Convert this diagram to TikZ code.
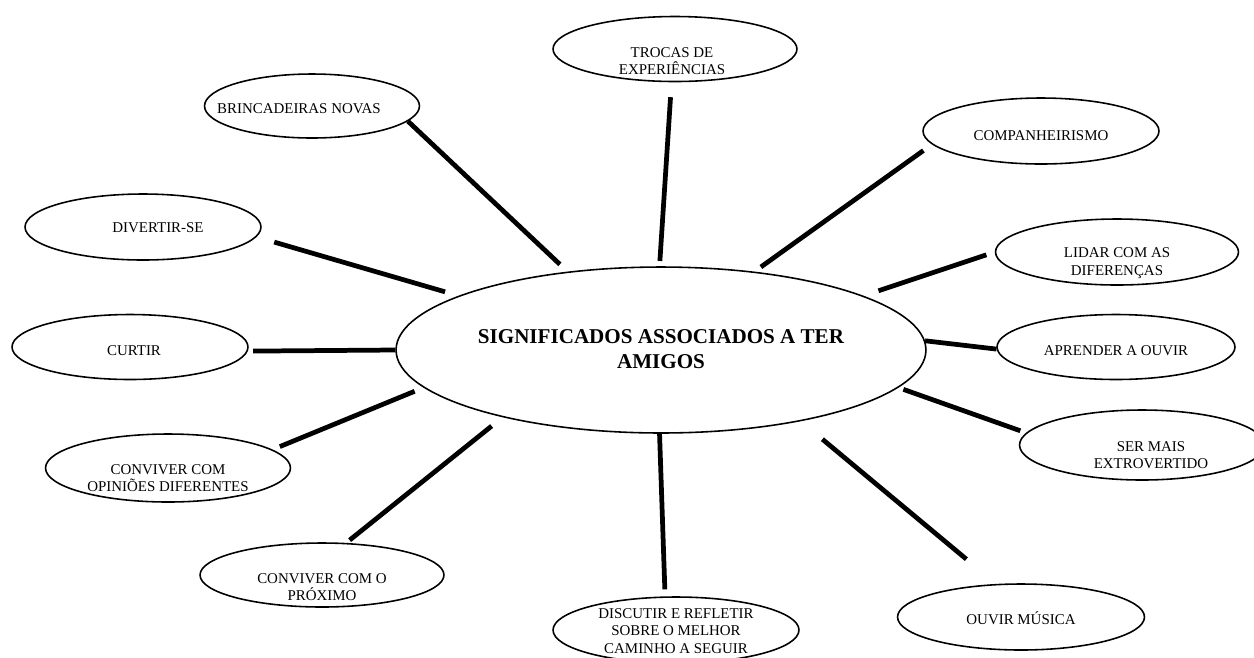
\documentclass[tikz,border=0pt]{standalone}
\usepackage{fontspec}
\setmainfont{Liberation Serif}
\usetikzlibrary{shapes.geometric}

\begin{document}
\begin{tikzpicture}[x=0.02cm,y=-0.02cm,
  bolha/.style={ellipse,draw,line width=0.9pt,inner sep=0pt},
  rotulo/.style={align=center,font=\fontsize{8.5}{10}\selectfont},
  haste/.style={line width=2.7pt}]
\useasboundingbox (0,0) rectangle (1254,657);
% centro
\node [bolha,minimum width=10.6cm,minimum height=3.32cm] (centro) at (661,350) {};
\node [align=center,font=\fontsize{12}{14}\selectfont\bfseries] (centro-txt) at (661,349) {SIGNIFICADOS ASSOCIADOS A TER\\AMIGOS};
% bolhas
\node [bolha,minimum width=4.88cm,minimum height=1.30cm] (trocas) at (675,49) {};
\node [rotulo] (trocas-txt) at (672,61) {TROCAS DE\\EXPERIÊNCIAS};
\node [bolha,minimum width=4.30cm,minimum height=1.28cm] (brinc) at (312,106) {};
\node [rotulo] (brinc-txt) at (299,109) {BRINCADEIRAS NOVAS};
\node [bolha,minimum width=4.72cm,minimum height=1.32cm] (comp) at (1041,131) {};
\node [rotulo] (comp-txt) at (1041,136) {COMPANHEIRISMO};
\node [bolha,minimum width=4.72cm,minimum height=1.32cm] (divert) at (143,227) {};
\node [rotulo] (divert-txt) at (158,228) {DIVERTIR-SE};
\node [bolha,minimum width=4.86cm,minimum height=1.32cm] (lidar) at (1117,252) {};
\node [rotulo] (lidar-txt) at (1117,263) {LIDAR COM AS\\DIFERENÇAS};
\node [bolha,minimum width=4.72cm,minimum height=1.30cm] (curtir) at (130,347) {};
\node [rotulo] (curtir-txt) at (134,351) {CURTIR};
\node [bolha,minimum width=4.76cm,minimum height=1.30cm] (aprender) at (1116,347) {};
\node [rotulo] (aprender-txt) at (1116,351) {APRENDER A OUVIR};
\node [bolha,minimum width=4.90cm,minimum height=1.36cm] (opinioes) at (168,468) {};
\node [rotulo] (opinioes-txt) at (168,478) {CONVIVER COM\\OPINIÕES DIFERENTES};
\node [bolha,minimum width=4.90cm,minimum height=1.40cm] (sermais) at (1142,445) {};
\node [rotulo] (sermais-txt) at (1151,455) {SER MAIS\\EXTROVERTIDO};
\node [bolha,minimum width=4.88cm,minimum height=1.28cm] (proximo) at (322,575) {};
\node [rotulo] (proximo-txt) at (322,587) {CONVIVER COM O\\PRÓXIMO};
\node [bolha,minimum width=4.92cm,minimum height=1.32cm] (discutir) at (676,630) {};
\node [rotulo] (discutir-txt) at (676,631) {DISCUTIR E REFLETIR\\SOBRE O MELHOR\\CAMINHO A SEGUIR};
\node [bolha,minimum width=4.94cm,minimum height=1.32cm] (ouvir) at (1021,617) {};
\node [rotulo] (ouvir-txt) at (1021,618) {OUVIR MÚSICA};
% hastes
\draw [haste,shorten >=6pt] (brinc.-9) -- (centro.140);
\draw [haste,shorten <=8.5pt,shorten >=3pt] (trocas.264) -- (centro.91);
\draw [haste,shorten <=6pt,shorten >=4.5pt] (comp.187) -- (centro.40);
\draw [haste,shorten <=10.5pt,shorten >=8pt] (divert.-5) -- (centro.165);
\draw [haste,shorten <=5pt,shorten >=9pt] (lidar.180) -- (centro.15);
\draw [haste,shorten <=3pt] (curtir.-2) -- (centro.180);
\draw [haste] (aprender.181) -- (centro.2);
\draw [haste,shorten <=4.5pt,shorten >=5.5pt] (opinioes.10) -- (centro.-171);
\draw [haste,shorten <=3.5pt,shorten >=3pt] (sermais.174) -- (centro.-9.5);
\draw [haste,shorten <=2.5pt,shorten >=8pt] (proximo.53) -- (centro.-157);
\draw [haste,shorten <=4pt] (discutir.108) -- (centro.-91);
\draw [haste,shorten <=22pt,shorten >=16pt] (ouvir.127) -- (centro.-27);
\end{tikzpicture}
\end{document}
